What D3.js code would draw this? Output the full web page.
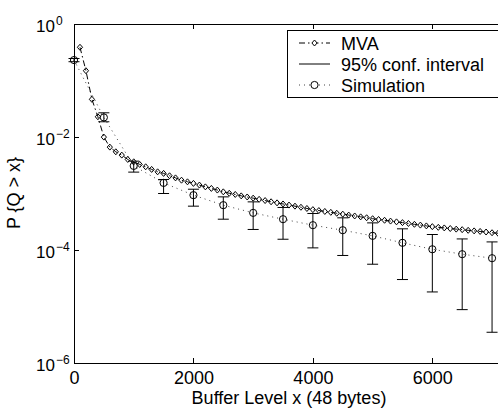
<!DOCTYPE html>
<html>
<head>
<meta charset="utf-8">
<script src="https://cdn.jsdelivr.net/npm/d3@7"></script>
<style>
body { margin: 0; background: #fff; }
svg { display: block; font-family: "Liberation Sans", Arial, Helvetica, sans-serif; }
</style>
</head>
<body>
<div id="chart"></div>
<script>
// MVA curve (one point every 100 buffer units)
const mvaX = [100, 200, 300, 400, 500, 600, 700, 800, 900, 1000,
    1100, 1200, 1300, 1400, 1500, 1600, 1700, 1800, 1900, 2000,
    2100, 2200, 2300, 2400, 2500, 2600, 2700, 2800, 2900, 3000,
    3100, 3200, 3300, 3400, 3500, 3600, 3700, 3800, 3900, 4000,
    4100, 4200, 4300, 4400, 4500, 4600, 4700, 4800, 4900, 5000,
    5100, 5200, 5300, 5400, 5500, 5600, 5700, 5800, 5900, 6000,
    6100, 6200, 6300, 6400, 6500, 6600, 6700, 6800, 6900, 7000, 7100];
const mvaY = [3.87e-1, 1.49e-1, 4.64e-2, 2.28e-2, 9.96e-3, 6.62e-3, 5.47e-3, 4.78e-3, 4.01e-3, 3.64e-3,
    3.27e-3, 2.97e-3, 2.67e-3, 2.42e-3, 2.27e-3, 2.06e-3, 1.89e-3, 1.72e-3, 1.61e-3, 1.51e-3,
    1.41e-3, 1.31e-3, 1.23e-3, 1.15e-3, 1.07e-3, 1.01e-3, 9.62e-4, 9.08e-4, 8.68e-4, 8.27e-4,
    7.88e-4, 7.50e-4, 7.14e-4, 6.83e-4, 6.53e-4, 6.24e-4, 5.97e-4, 5.71e-4, 5.43e-4, 5.18e-4,
    4.99e-4, 4.81e-4, 4.64e-4, 4.47e-4, 4.31e-4, 4.15e-4, 4.00e-4, 3.86e-4, 3.72e-4, 3.58e-4,
    3.47e-4, 3.36e-4, 3.25e-4, 3.15e-4, 3.05e-4, 2.95e-4, 2.85e-4, 2.76e-4, 2.67e-4, 2.59e-4,
    2.52e-4, 2.46e-4, 2.40e-4, 2.34e-4, 2.29e-4, 2.23e-4, 2.18e-4, 2.13e-4, 2.08e-4, 2.02e-4, 1.98e-4];

// Simulation points with 95% confidence interval
const simX = [0, 500, 1000, 1500, 2000, 2500, 3000, 3500, 4000, 4500, 5000, 5500, 6000, 6500, 7000];
const simY = [2.30e-1, 2.22e-2, 3.08e-3, 1.54e-3, 9.35e-4, 6.22e-4, 4.54e-4, 3.51e-4, 2.75e-4, 2.24e-4,
    1.78e-4, 1.34e-4, 1.03e-4, 8.43e-5, 7.16e-5];
const ciHigh = [2.45e-1, 2.68e-2, 3.74e-3, 1.77e-3, 1.19e-3, 8.72e-4, 7.11e-4, 5.66e-4, 4.43e-4, 3.71e-4,
    3.02e-4, 2.37e-4, 1.88e-4, 1.57e-4, 1.39e-4];
const ciLow = [2.15e-1, 1.86e-2, 2.39e-3, 1.00e-3, 5.97e-4, 3.51e-4, 2.31e-4, 1.55e-4, 1.09e-4, 8.0e-5,
    5.6e-5, 3.0e-5, 1.81e-5, 8.8e-6, 3.5e-6];

const xTicks = [0, 2000, 4000, 6000];
const yTicks = [1, 1e-2, 1e-4, 1e-6];
const yTickExp = ["0", "\u22122", "\u22124", "\u22126"];
const legendLabels = ["MVA", "95% conf. interval", "Simulation"];

const W = 498, H = 409;
const mLeft = 74, mTop = 24, plotW = 430, plotH = 339;

const svg = d3.select("#chart").append("svg")
    .attr("width", W)
    .attr("height", H);

const x = d3.scaleLinear().domain([0, 7200]).range([mLeft, mLeft + plotW]);
const y = d3.scaleLog().domain([1e-6, 1]).range([mTop + plotH, mTop]);

// axes box
svg.append("rect")
    .attr("x", mLeft).attr("y", mTop)
    .attr("width", plotW).attr("height", plotH)
    .attr("fill", "none").attr("stroke", "#000").attr("stroke-width", 1)
    .attr("shape-rendering", "crispEdges");

const xAxis = svg.append("g")
    .attr("transform", `translate(0,${mTop + plotH})`)
    .call(d3.axisBottom(x).tickValues(xTicks).tickSizeInner(-5).tickSizeOuter(0).tickPadding(8).tickFormat(d3.format("d")));
const xTop = svg.append("g")
    .attr("transform", `translate(0,${mTop})`)
    .call(d3.axisTop(x).tickValues(xTicks).tickSizeInner(-5).tickSizeOuter(0).tickFormat(""));
const yAxis = svg.append("g")
    .attr("transform", `translate(${mLeft},0)`)
    .call(d3.axisLeft(y).tickValues(yTicks).tickSizeInner(-5).tickSizeOuter(0).tickFormat(""));

[xAxis, xTop, yAxis].forEach(g => {
    g.select(".domain").remove();
    g.selectAll("line").attr("stroke", "#000").attr("shape-rendering", "crispEdges");
});
xAxis.attr("font-family", null).attr("font-size", 18)
    .selectAll("text").attr("fill", "#000");

// y tick labels as 10 with superscript
yAxis.attr("font-family", null);
yAxis.selectAll(".tick").each(function(d, i) {
    const t = d3.select(this);
    t.select("text").remove();
    t.append("text")
        .attr("x", -19).attr("y", 7.5)
        .attr("text-anchor", "end")
        .attr("font-size", 17)
        .attr("fill", "#000")
        .text("10");
    t.append("text")
        .attr("x", -18).attr("y", 0)
        .attr("text-anchor", "start")
        .attr("font-size", 12)
        .attr("fill", "#000")
        .text(yTickExp[i]);
});

// axis labels
svg.append("text")
    .attr("x", 289).attr("y", 404)
    .attr("text-anchor", "middle")
    .attr("font-size", 18)
    .text("Buffer Level x (48 bytes)");
svg.append("text")
    .attr("transform", "translate(20,193) rotate(-90)")
    .attr("text-anchor", "middle")
    .attr("font-size", 18)
    .text("P {Q > x}");

const mva = mvaX.map((v, i) => [v, mvaY[i]]);
const sim = simX.map((v, i) => ({ x: v, y: simY[i], lo: ciLow[i], hi: ciHigh[i] }));

const diamond = "M0,-3L2.6,0L0,3L-2.6,0Z";

// simulation dotted line
svg.append("path")
    .datum(sim)
    .attr("fill", "none")
    .attr("stroke", "#444")
    .attr("stroke-width", 1)
    .attr("stroke-dasharray", "1,4")
    .attr("d", d3.line().x(d => x(d.x)).y(d => y(d.y)));

// MVA dash-dot line
svg.append("path")
    .datum(mva)
    .attr("fill", "none")
    .attr("stroke", "#000")
    .attr("stroke-width", 1)
    .attr("stroke-dasharray", "6,3,1.5,3")
    .attr("d", d3.line().x(d => x(d[0])).y(d => y(d[1])));

// confidence intervals
const bars = svg.append("g").attr("stroke", "#000").attr("stroke-width", 1);
bars.selectAll(".ci")
    .data(sim)
    .enter().append("line")
    .attr("x1", d => x(d.x)).attr("x2", d => x(d.x))
    .attr("y1", d => y(d.lo)).attr("y2", d => y(d.hi));
bars.selectAll(".cap-hi")
    .data(sim)
    .enter().append("line")
    .attr("x1", d => x(d.x) - 5.5).attr("x2", d => x(d.x) + 5.5)
    .attr("y1", d => y(d.hi)).attr("y2", d => y(d.hi));
bars.selectAll(".cap-lo")
    .data(sim)
    .enter().append("line")
    .attr("x1", d => x(d.x) - 5.5).attr("x2", d => x(d.x) + 5.5)
    .attr("y1", d => y(d.lo)).attr("y2", d => y(d.lo));

// markers
svg.append("g").selectAll("path")
    .data(mva)
    .enter().append("path")
    .attr("d", diamond)
    .attr("transform", d => `translate(${x(d[0])},${y(d[1])})`)
    .attr("fill", "none").attr("stroke", "#000").attr("stroke-width", 1);

svg.append("g").selectAll("circle")
    .data(sim)
    .enter().append("circle")
    .attr("cx", d => x(d.x)).attr("cy", d => y(d.y))
    .attr("r", 3.6)
    .attr("fill", "none").attr("stroke", "#000").attr("stroke-width", 1);

// legend
const lg = svg.append("g");
lg.append("rect")
    .attr("x", 287.5).attr("y", 30.5)
    .attr("width", 230).attr("height", 67)
    .attr("fill", "#fff").attr("stroke", "#000").attr("stroke-width", 1);
const rowY = [43, 64, 85];
legendLabels.forEach((lab, i) => {
    const ly = rowY[i];
    const ln = lg.append("line")
        .attr("x1", 299).attr("x2", 330)
        .attr("y1", ly).attr("y2", ly)
        .attr("stroke", "#000").attr("stroke-width", 1);
    if (i === 0) {
        ln.attr("stroke-dasharray", "6,3,1.5,3");
        lg.append("path").attr("d", diamond)
            .attr("transform", `translate(314.5,${ly})`)
            .attr("fill", "#fff").attr("stroke", "#000");
    } else if (i === 2) {
        ln.attr("stroke", "#444").attr("stroke-dasharray", "1,4");
        lg.append("circle").attr("cx", 314.5).attr("cy", ly).attr("r", 3.6)
            .attr("fill", "#fff").attr("stroke", "#000");
    }
    lg.append("text")
        .attr("x", 341).attr("y", ly + 6.5)
        .attr("font-size", 18)
        .text(lab);
});
</script>
</body>
</html>
